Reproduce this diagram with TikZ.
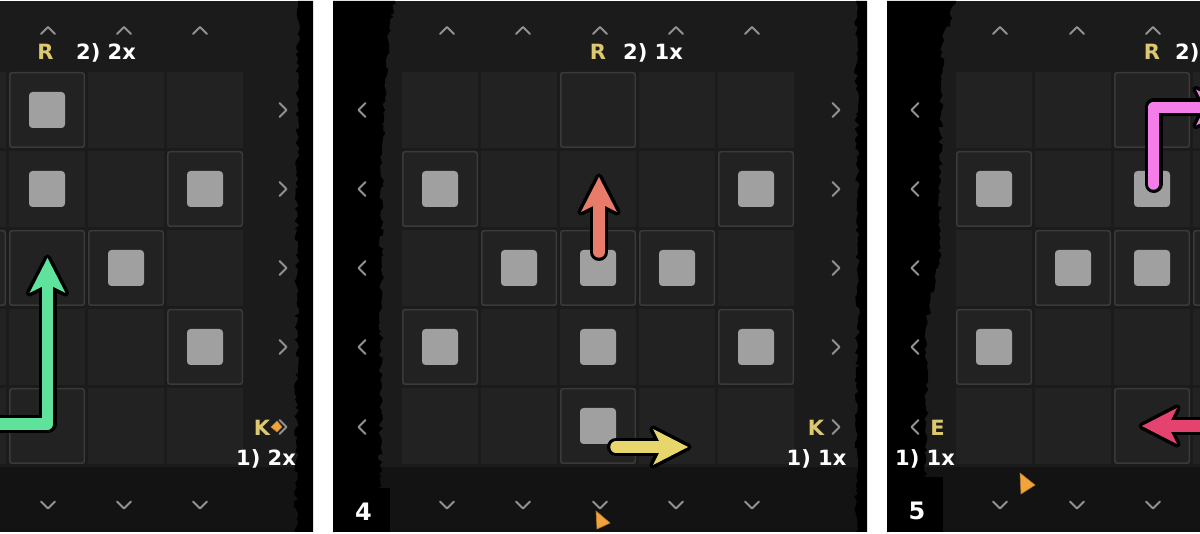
\documentclass[tikz,border=0pt]{standalone}
\usepackage{fontspec}
\setmainfont{DejaVu Sans}
\usetikzlibrary{decorations.pathmorphing}
\definecolor{pbg}{HTML}{1B1B1B}
\definecolor{botbg}{HTML}{131313}
\definecolor{cellc}{HTML}{222222}
\definecolor{cellline}{HTML}{3A3A3A}
\definecolor{sq}{HTML}{A0A0A0}
\definecolor{chev}{HTML}{929292}
\definecolor{lblY}{HTML}{DCC96F}
\definecolor{agreen}{HTML}{5FE39C}
\definecolor{ared}{HTML}{E97B6B}
\definecolor{ayellow}{HTML}{E7D66C}
\definecolor{apink}{HTML}{F47DE9}
\definecolor{acrimson}{HTML}{E5436F}
\definecolor{curs}{HTML}{F2A33A}
\tikzset{
  lbl/.style={font=\bfseries\fontsize{21}{21}\selectfont, inner sep=0pt},
  numlbl/.style={font=\bfseries\fontsize{24}{24}\selectfont, inner sep=0pt, text=white},
  chevron/.style={draw=chev, line width=2, line cap=round, line join=round},
  cellframe/.style={draw=cellline, line width=1.5, rounded corners=2.5},
  gem/.style={fill=sq, rounded corners=3.5},
  band/.style={fill=black, decoration={random steps, segment length=3.5, amplitude=2.5}},
  pointer/.style={fill=curs, draw=curs!75!black, line width=0.6, line join=round},
}
\newcommand\cellsat[1]{\foreach \cc in {0,...,4}{\foreach \rr in {0,...,4}{\fill[cellc] ({#1+79*\cc},{72+79*\rr}) rectangle ++(76,76);}}}
\newcommand\framecell[3]{\draw[cellframe] ({#1+79*#2+0.75},{72+79*#3+0.75}) rectangle ++(74.5,74.5);}
\newcommand\gemcell[3]{\fill[gem] ({#1+79*#2+20},{72+79*#3+20}) rectangle ++(36,36);}
\newcommand\chup[2]{\draw[chevron] ({#1-7},{#2+3.5}) -- (#1,{#2-3.5}) -- ({#1+7},{#2+3.5});}
\newcommand\chdown[2]{\draw[chevron] ({#1-7},{#2-3.5}) -- (#1,{#2+3.5}) -- ({#1+7},{#2-3.5});}
\newcommand\chright[2]{\draw[chevron] ({#1-3.5},{#2-7}) -- ({#1+3.5},#2) -- ({#1-3.5},{#2+7});}
\newcommand\chleft[2]{\draw[chevron] ({#1+3.5},{#2-7}) -- ({#1-3.5},#2) -- ({#1+3.5},{#2+7});}
\newcommand\fatarrow[4]{%
  \draw[black, line width=18, line cap=round, line join=round] #2;
  \filldraw[black, line width=7, line join=round, shift={#3}, rotate=#4] (0,0) -- (-35,18) -- (-29,6) -- (-29,-6) -- (-35,-18) -- cycle;
  \draw[#1, line width=11.5, line cap=round, line join=round] #2;
  \fill[#1, shift={#3}, rotate=#4] (0,0) -- (-35,18) -- (-29,6) -- (-29,-6) -- (-35,-18) -- cycle;}
\newcommand\lab[6]{\node[lbl, text=#5, anchor=#2] (#1) at (#3,#4) {#6};}
\begin{document}
\begin{tikzpicture}[x=1pt,y=-1pt]
\useasboundingbox (0,0) rectangle (1200,534);
\fill[white] (0,0) rectangle (1200,534);
% panel backgrounds
\fill[pbg] (0,1) rectangle (313,532);
\fill[botbg] (0,467) rectangle (313,532);
\fill[pbg] (333,1) rectangle (867,532);
\fill[botbg] (333,467) rectangle (867,532);
\fill[pbg] (887,1) rectangle (1200,532);
\fill[botbg] (887,467) rectangle (1200,532);
% cells
\cellsat{-149}
\cellsat{402}
\cellsat{956}
% left panel cells
\foreach \cc/\rr in {2/0,4/1,1/2,2/2,3/2,4/3,2/4}{\framecell{-149}{\cc}{\rr}}
\foreach \cc/\rr in {2/0,2/1,4/1,3/2,4/3}{\gemcell{-149}{\cc}{\rr}}
% middle panel cells
\foreach \cc/\rr in {2/0,0/1,4/1,1/2,2/2,3/2,0/3,4/3,2/4}{\framecell{402}{\cc}{\rr}}
\foreach \cc/\rr in {0/1,4/1,1/2,2/2,3/2,0/3,2/3,4/3,2/4}{\gemcell{402}{\cc}{\rr}}
% right panel cells
\foreach \cc/\rr in {2/0,0/1,1/2,2/2,3/2,0/3,2/4}{\framecell{956}{\cc}{\rr}}
\foreach \cc/\rr in {0/1,2/1,1/2,2/2,0/3}{\gemcell{956}{\cc}{\rr}}
% torn edges
\pgfmathsetseed{11}
\fill[band] (313,1) -- (298,1) decorate{-- (296,532)} -- (313,532) -- cycle;
\fill[band] (333,1) -- (395,1) decorate{-- (388,40) -- (382,150) -- (380,532)} -- (333,532) -- cycle;
\fill[band] (867,1) -- (856,1) decorate{-- (858,250) -- (856,532)} -- (867,532) -- cycle;
\fill[band] (887,1) -- (956,1) decorate{-- (942,45) -- (939,260) -- (927,320) -- (925,532)} -- (887,532) -- cycle;
\fill[black] (333,488) rectangle (390,532);
\fill[black] (887,477) rectangle (943,532);
% chevrons
\foreach \xx in {48,124,200}{\chup{\xx}{30.5}\chdown{\xx}{505}}
\foreach \yy in {110,189,268,347,427}{\chright{283}{\yy}}
\foreach \xx in {447,523,600,676,752}{\chup{\xx}{30.5}\chdown{\xx}{505}}
\foreach \yy in {110,189,268,347,427}{\chleft{362}{\yy}\chright{836}{\yy}}
\foreach \xx in {1000,1077,1153}{\chup{\xx}{30.5}\chdown{\xx}{505}}
\foreach \yy in {110,189,268,347,427}{\chleft{915}{\yy}}
% arrows
\fatarrow{agreen}{(-20,424) -- (47.5,424) -- (47.5,285)}{(47.5,258)}{90}
\fatarrow{ared}{(599,252) -- (599,200)}{(599,177)}{90}
\fatarrow{ayellow}{(616,447) -- (665,447)}{(688,447)}{0}
\fatarrow{apink}{(1153.5,184) -- (1153.5,107.5) -- (1210,107.5)}{(1231,107.5)}{0}
\fatarrow{acrimson}{(1220,426) -- (1165,426)}{(1142,426)}{180}
% cursors
\filldraw[pointer] (271,427) -- (277,421) -- (282,427) -- (277,432) -- cycle;
\filldraw[pointer] (596,511) -- (610,523) -- (597,529) -- cycle;
\filldraw[pointer] (1020,473) -- (1035,485) -- (1021,494) -- cycle;
% labels
\lab{Rl}{base}{45.5}{60}{lblY}{R}
\lab{Tl}{base west}{76}{60}{white}{2) 2x}
\lab{Kl}{base}{262}{435.5}{lblY}{K}
\lab{Cl}{base}{266}{466}{white}{1) 2x}
\lab{Rm}{base}{598}{60}{lblY}{R}
\lab{Tm}{base west}{623}{60}{white}{2) 1x}
\lab{Km}{base}{816}{435.5}{lblY}{K}
\lab{Cm}{base}{816.5}{466}{white}{1) 1x}
\lab{Rr}{base}{1152}{60}{lblY}{R}
\lab{Tr}{base west}{1175}{60}{white}{2)}
\lab{Er}{base}{937.5}{435.5}{lblY}{E}
\lab{Cr}{base}{925}{466}{white}{1) 1x}
\node[numlbl, anchor=base] (n4) at (363.5,520) {4};
\node[numlbl, anchor=base] (n5) at (917,519) {5};
\end{tikzpicture}
\end{document}
